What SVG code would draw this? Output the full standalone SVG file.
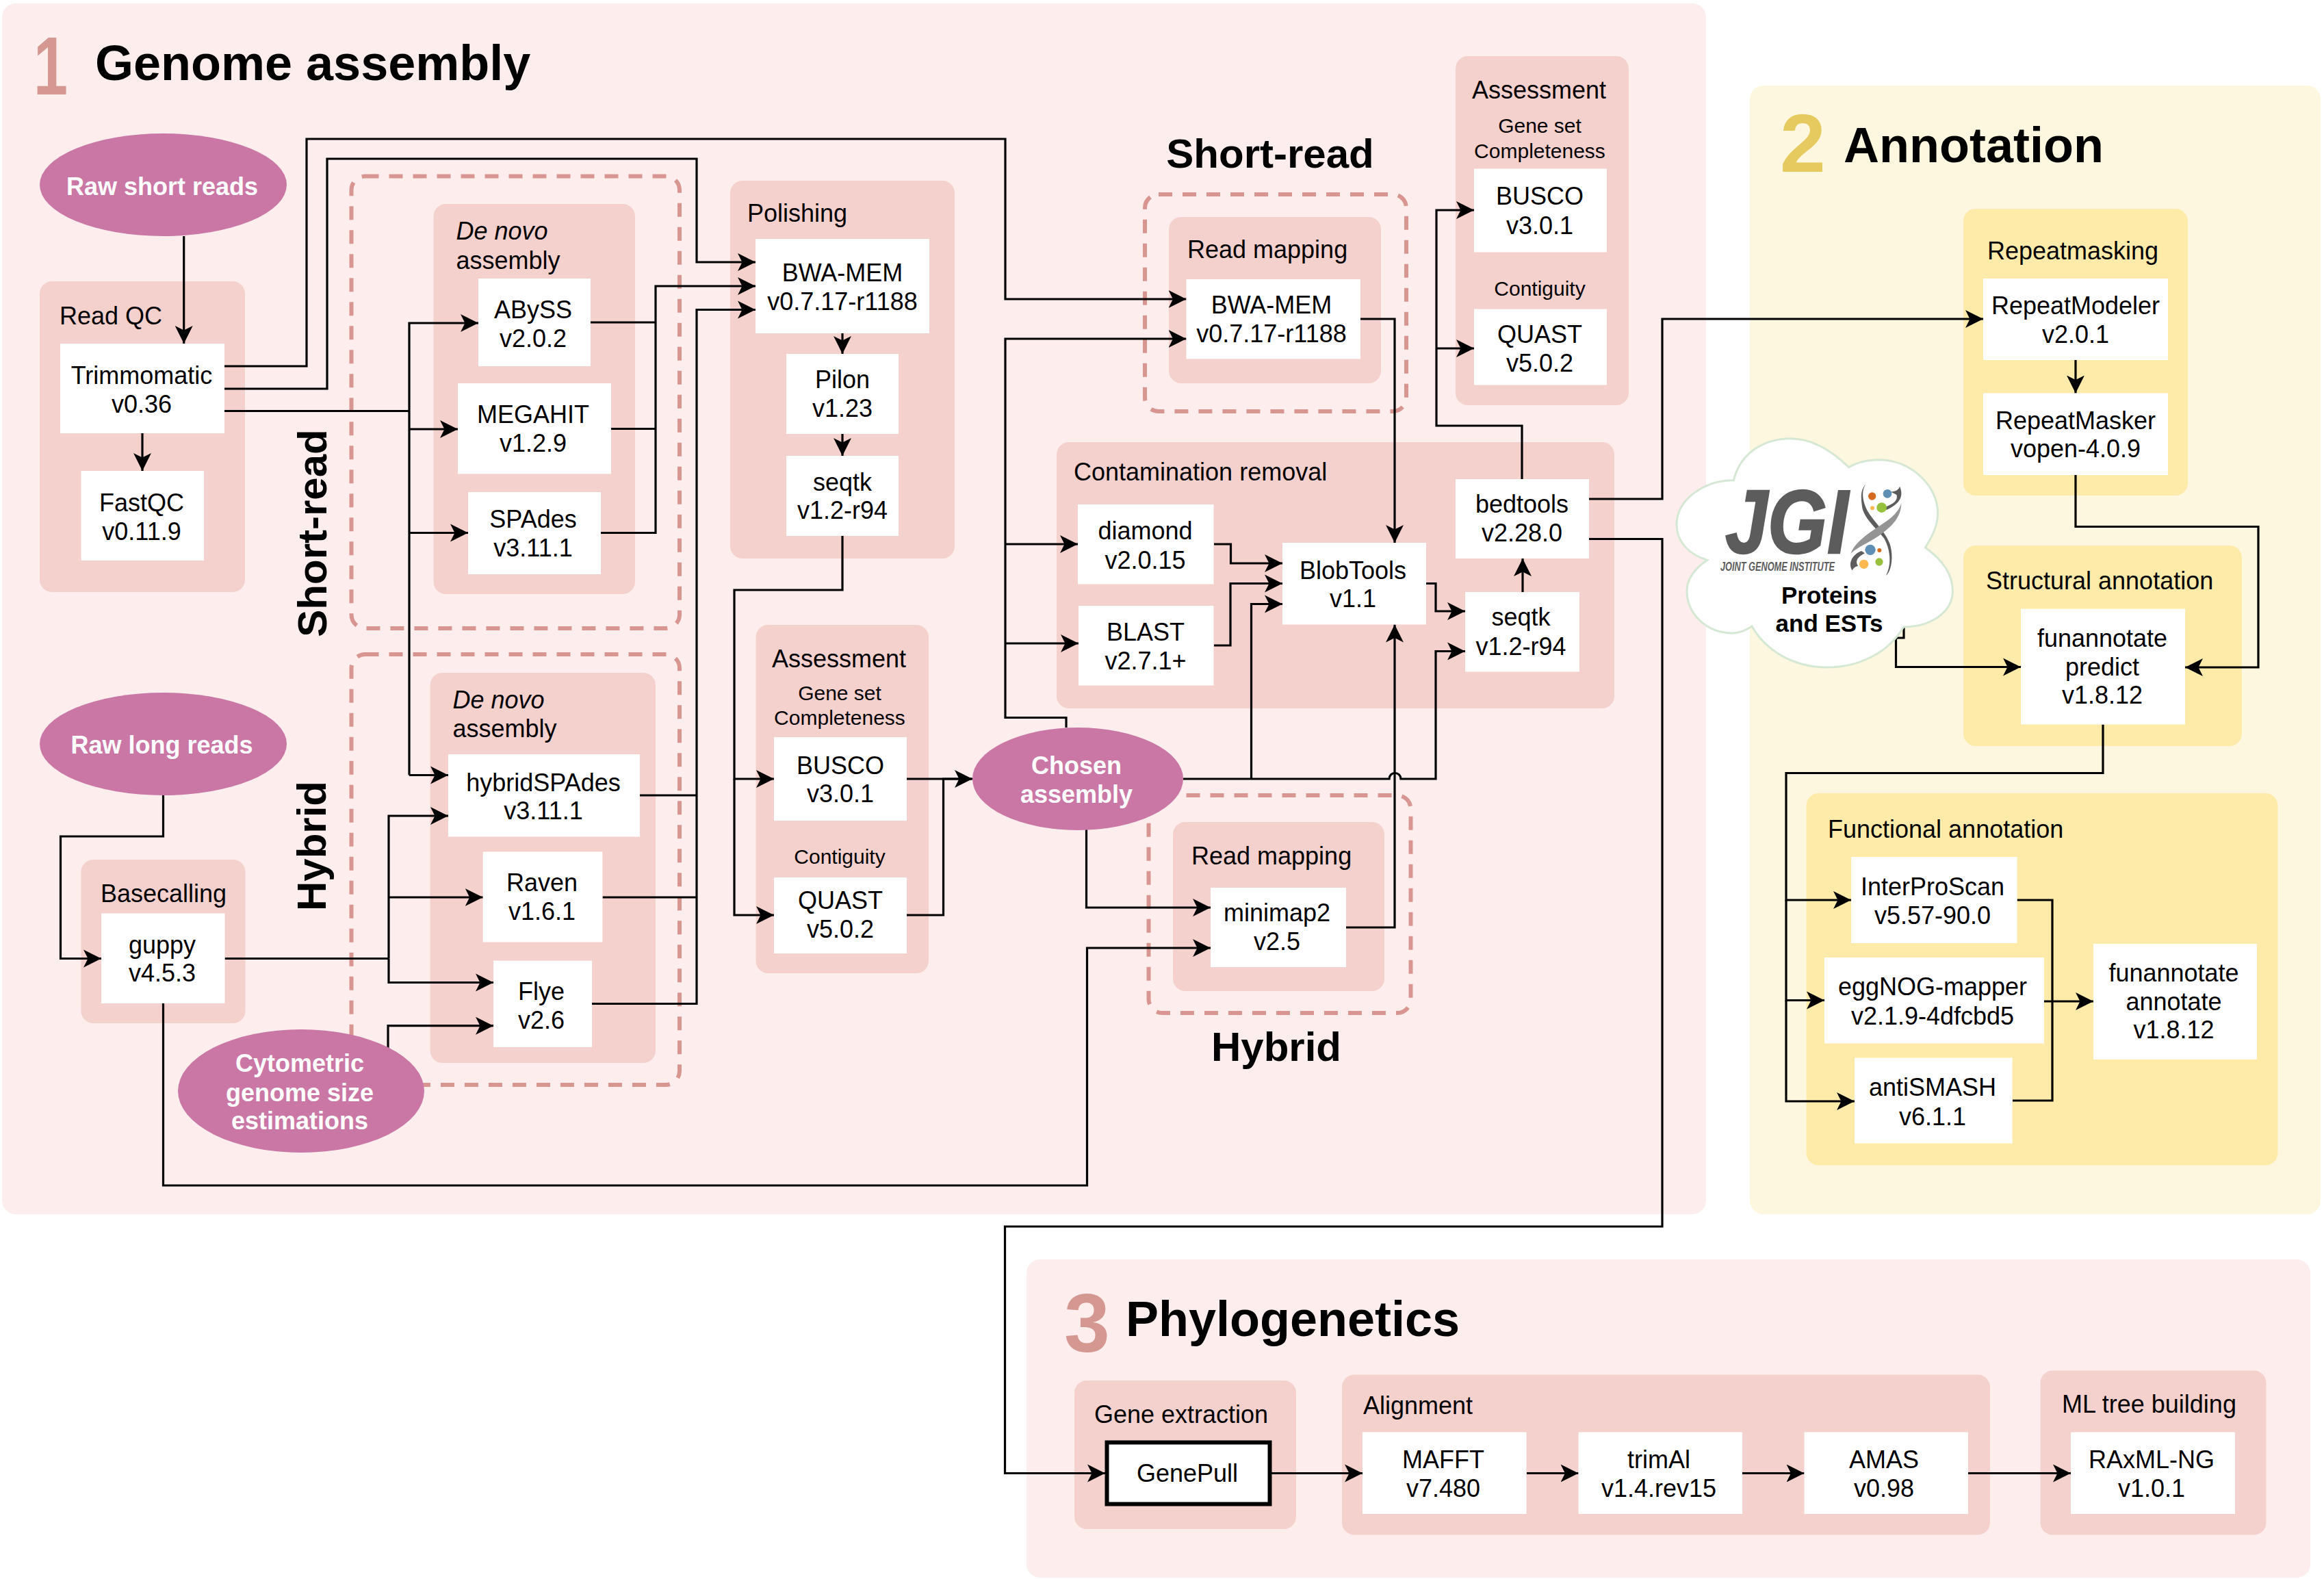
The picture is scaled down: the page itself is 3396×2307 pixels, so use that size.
<svg xmlns="http://www.w3.org/2000/svg" width="3396" height="2307" viewBox="0 0 3396 2307">
<style>
text{font-family:"Liberation Sans",Arial,sans-serif;font-size:36px;fill:#000}
.c{text-anchor:middle}
.b{font-weight:bold}
.s{font-size:30px}
.h{font-size:72px;font-weight:bold}
.big{font-size:120px;font-weight:bold}
.side{font-size:60px;font-weight:bold}
.e{fill:#cb77a6}
.et{fill:#fff;font-weight:bold;text-anchor:middle;font-size:36px}
.w{fill:#fff}
.p{fill:#f5d1ce}
.y{fill:#feebaa}
.sec1{fill:#fdeeed}
.sec2{fill:#fef7df}
.d{fill:none;stroke:#d9958f;stroke-width:6;stroke-dasharray:20 15}
.l{fill:none;stroke:#000;stroke-width:3.2}
.a{marker-end:url(#arr)}
</style>
<defs>
<marker id="arr" markerUnits="userSpaceOnUse" markerWidth="27" markerHeight="28" viewBox="0 0 27 28" refX="26" refY="14" orient="auto"><path d="M0,1 L26,14 L0,27 L6.5,14 Z" fill="#000"/></marker>
</defs>
<rect width="3396" height="2307" fill="#fff"/>

<g id="section-1">
<rect class="sec1" x="3" y="5" width="2490" height="1769" rx="20"/>
<text class="big" x="49" y="138" textLength="50" lengthAdjust="spacingAndGlyphs" style="fill:#d59891">1</text>
<text class="h" x="139" y="117">Genome assembly</text>
</g>
<g id="section-2">
<rect class="sec2" x="2557" y="125" width="834" height="1649" rx="20"/>
<text class="big" x="2601" y="251" style="fill:#e6ca5f">2</text>
<text class="h" x="2694" y="237">Annotation</text>
</g>
<g id="section-3">
<rect class="sec1" x="1500" y="1840" width="1876" height="465" rx="20"/>
<text class="big" x="1555" y="1975" style="fill:#d59891">3</text>
<text class="h" x="1645" y="1952">Phylogenetics</text>
</g>

<g id="dashed-regions">
<rect class="d" x="513.5" y="257.5" width="479.5" height="660.5" rx="20"/>
<rect class="d" x="513.5" y="956" width="479.5" height="629" rx="20"/>
<rect class="d" x="1673" y="284" width="382" height="317" rx="20"/>
<rect class="d" x="1678.5" y="1162" width="383" height="318" rx="20"/>
</g>
<g id="region-labels">
<text class="side c" x="1856" y="245">Short-read</text>
<text class="side c" x="1865" y="1550">Hybrid</text>
<text class="side c" transform="translate(477,779) rotate(-90)">Short-read</text>
<text class="side c" transform="translate(476,1236) rotate(-90)">Hybrid</text>
</g>

<g id="group-read-qc"><rect class="p" x="58" y="411" width="300" height="454" rx="18"/><text x="87" y="474">Read QC</text></g>
<g id="group-basecalling"><rect class="p" x="118.5" y="1256" width="240" height="239" rx="18"/><text x="147" y="1318">Basecalling</text></g>
<g id="group-denovo-short"><rect class="p" x="633.5" y="298" width="294.5" height="570" rx="18"/><text x="666.5" y="350" font-style="italic">De novo</text><text x="666.5" y="393">assembly</text></g>
<g id="group-denovo-hybrid"><rect class="p" x="628.5" y="983" width="329.5" height="570" rx="18"/><text x="661.5" y="1035" font-style="italic">De novo</text><text x="661.5" y="1077">assembly</text></g>
<g id="group-polishing"><rect class="p" x="1067" y="264" width="328" height="552" rx="18"/><text x="1092" y="324">Polishing</text></g>
<g id="group-assessment-1"><rect class="p" x="1104.5" y="913" width="252.5" height="509" rx="18"/><text class="c" x="1226" y="974.5">Assessment</text><text class="c s" x="1227" y="1023">Gene set</text><text class="c s" x="1227" y="1059">Completeness</text><text class="c s" x="1227" y="1262">Contiguity</text></g>
<g id="group-read-mapping-short"><rect class="p" x="1708" y="317" width="310" height="243" rx="18"/><text x="1735" y="377">Read mapping</text></g>
<g id="group-read-mapping-hybrid"><rect class="p" x="1714" y="1201" width="309" height="247" rx="18"/><text x="1741" y="1263">Read mapping</text></g>
<g id="group-contamination"><rect class="p" x="1544" y="646" width="815" height="389" rx="18"/><text x="1569" y="701.5">Contamination removal</text></g>
<g id="group-assessment-2"><rect class="p" x="2127" y="82" width="253" height="510" rx="18"/><text class="c" x="2249" y="143.5">Assessment</text><text class="c s" x="2250" y="194">Gene set</text><text class="c s" x="2250" y="230.5">Completeness</text><text class="c s" x="2250" y="432">Contiguity</text></g>
<g id="group-repeatmasking"><rect class="y" x="2869" y="305" width="328" height="419" rx="18"/><text class="c" x="3029" y="379">Repeatmasking</text></g>
<g id="group-structural"><rect class="y" x="2869" y="797" width="407" height="293" rx="18"/><text x="2902" y="861">Structural annotation</text></g>
<g id="group-functional"><rect class="y" x="2639.5" y="1159" width="689" height="543.5" rx="18"/><text x="2671" y="1224">Functional annotation</text></g>
<g id="group-gene-extraction"><rect class="p" x="1570" y="2017" width="324" height="217" rx="18"/><text x="1599" y="2078.5">Gene extraction</text></g>
<g id="group-alignment"><rect class="p" x="1961" y="2008.5" width="947" height="234" rx="18"/><text x="1992" y="2065.5">Alignment</text></g>
<g id="group-ml"><rect class="p" x="2981.5" y="2002.5" width="330" height="240" rx="18"/><text class="c" x="3140.5" y="2063.5">ML tree building</text></g>

<g id="connectors">
<path class="l a" d="M268.7,345 V502"/>
<path class="l a" d="M208,633 V688"/>
<path class="l a" d="M328,535 H448 V203 H1469 V437 H1733.5"/>
<path class="l a" d="M328,568 H478 V232 H1018 V383 H1104"/>
<path class="l" d="M328,600.5 H598"/>
<path class="l a" d="M598,1132.5 V472 H699"/>
<path class="l a" d="M598,627 H669"/>
<path class="l a" d="M598,778.5 H684"/>
<path class="l a" d="M598,1132.5 H655"/>
<path class="l" d="M863,471 H958"/>
<path class="l" d="M893,626.5 H958"/>
<path class="l a" d="M878,778.5 H958 V418 H1104"/>
<path class="l" d="M935,1162 H1018"/>
<path class="l" d="M880.5,1311 H1018"/>
<path class="l a" d="M865,1466.5 H1018 V452.5 H1104"/>
<path class="l a" d="M1231,487 V517"/>
<path class="l a" d="M1231,634 V666"/>
<path class="l a" d="M1231,783 V862 H1073 V1138 H1131"/>
<path class="l a" d="M1073,1138 V1337 H1131"/>
<path class="l" d="M1325,1138 H1420"/>
<path class="l a" d="M1325,1337 H1378.5 V1138 H1421"/>
<path class="l a" d="M1558,1063 V1048.5 H1469 V495 H1733.5"/>
<path class="l a" d="M1469,795 H1575"/>
<path class="l a" d="M1469,940 H1576"/>
<path class="l a" d="M1729,1138 H2030 A8.5,8.5 0 0 1 2047,1138 H2098 V951.5 H2141"/>
<path class="l a" d="M1828.5,1138 V882.5 H1874"/>
<path class="l a" d="M1587.5,1212 V1326 H1769"/>
<path class="l a" d="M238.5,1466 V1732 H1588.5 V1385 H1769"/>
<path class="l a" d="M1967,1355 H2038 V912.5"/>
<path class="l a" d="M1988,466 H2038 V793"/>
<path class="l a" d="M1774,795 H1798.5 V823 H1874"/>
<path class="l a" d="M1774,943 H1798 V852.5 H1874"/>
<path class="l a" d="M2084,852.5 H2098 V893 H2141"/>
<path class="l a" d="M2225,865 V816"/>
<path class="l a" d="M2224,700 V622 H2099 V307 H2154"/>
<path class="l a" d="M2099,509 H2154"/>
<path class="l a" d="M2322,729 H2429 V466 H2898"/>
<path class="l a" d="M2322,787.5 H2429 V1792 H1468.5 V2152.5 H1615"/>
<path class="l a" d="M3033,526 V574.5"/>
<path class="l a" d="M3033,694 V769.5 H3300 V975 H3193"/>
<path class="l a" d="M2782,917 V932 H2770.5 V974.5 H2953"/>
<path class="l a" d="M3073,1058.5 V1129.5 H2610 V1315 H2705"/>
<path class="l a" d="M2610,1315 V1461.5 H2666"/>
<path class="l a" d="M2610,1461.5 V1609 H2710"/>
<path class="l" d="M2947.5,1315 H2999 V1608 H2941"/>
<path class="l a" d="M2987,1463 H3059"/>
<path class="l a" d="M1858,2152.5 H1991"/>
<path class="l a" d="M2231,2152.5 H2306.5"/>
<path class="l a" d="M2546,2152.5 H2636.5"/>
<path class="l a" d="M2876,2152.5 H3026"/>
<path class="l a" d="M238.5,1162 V1222 H88.5 V1400.5 H148"/>
<path class="l" d="M328.5,1400.5 H568"/>
<path class="l a" d="M568,1400.5 V1192 H655"/>
<path class="l a" d="M568,1311 H705.7"/>
<path class="l a" d="M568,1400.5 V1435.5 H721"/>
<path class="l a" d="M567,1535 V1498.7 H721"/>
</g>

<g id="node-raw-short"><ellipse class="e" cx="238.5" cy="270" rx="180.5" ry="75"/><text class="et" x="237" y="285">Raw short reads</text></g>
<g id="node-raw-long"><ellipse class="e" cx="238.5" cy="1087" rx="180.5" ry="75"/><text class="et" x="236.5" y="1101">Raw long reads</text></g>
<g id="node-cytometric"><ellipse class="e" cx="440" cy="1594" rx="180" ry="90"/><text class="et" x="438" y="1566">Cytometric</text><text class="et" x="438" y="1609">genome size</text><text class="et" x="438" y="1650">estimations</text></g>
<g id="node-chosen"><ellipse class="e" cx="1575" cy="1138" rx="154" ry="75"/><text class="et" x="1573" y="1131">Chosen</text><text class="et" x="1573" y="1173">assembly</text></g>

<g id="node-trimmomatic"><rect class="w" x="88" y="502" width="240" height="131"/><text class="c" x="207" y="561">Trimmomatic</text><text class="c" x="207" y="603">v0.36</text></g>
<g id="node-fastqc"><rect class="w" x="118.5" y="688" width="179.5" height="131"/><text class="c" x="207" y="747">FastQC</text><text class="c" x="207" y="789">v0.11.9</text></g>
<g id="node-guppy"><rect class="w" x="148" y="1334.5" width="180.5" height="131.5"/><text class="c" x="237" y="1393">guppy</text><text class="c" x="237" y="1434">v4.5.3</text></g>
<g id="node-abyss"><rect class="w" x="699" y="407" width="164" height="128"/><text class="c" x="779" y="465">ABySS</text><text class="c" x="779" y="507">v2.0.2</text></g>
<g id="node-megahit"><rect class="w" x="669" y="560" width="224" height="132.5"/><text class="c" x="779" y="618">MEGAHIT</text><text class="c" x="779" y="660">v1.2.9</text></g>
<g id="node-spades"><rect class="w" x="684" y="719" width="194" height="120"/><text class="c" x="779" y="771">SPAdes</text><text class="c" x="779" y="813">v3.11.1</text></g>
<g id="node-hybridspades"><rect class="w" x="655" y="1102" width="280" height="120.5"/><text class="c" x="794" y="1155.5">hybridSPAdes</text><text class="c" x="794" y="1197">v3.11.1</text></g>
<g id="node-raven"><rect class="w" x="705.7" y="1244.5" width="174.7" height="132"/><text class="c" x="792" y="1302">Raven</text><text class="c" x="792" y="1344">v1.6.1</text></g>
<g id="node-flye"><rect class="w" x="721" y="1403.5" width="144" height="126.5"/><text class="c" x="791" y="1461">Flye</text><text class="c" x="791" y="1503">v2.6</text></g>
<g id="node-bwa-polish"><rect class="w" x="1104" y="349" width="254" height="138"/><text class="c" x="1231" y="411">BWA-MEM</text><text class="c" x="1231" y="453">v0.7.17-r1188</text></g>
<g id="node-pilon"><rect class="w" x="1149" y="517" width="164" height="117"/><text class="c" x="1231" y="567">Pilon</text><text class="c" x="1231" y="609">v1.23</text></g>
<g id="node-seqtk-polish"><rect class="w" x="1149" y="666" width="164" height="117"/><text class="c" x="1231" y="717">seqtk</text><text class="c" x="1231" y="758">v1.2-r94</text></g>
<g id="node-busco-1"><rect class="w" x="1131" y="1077" width="194" height="122"/><text class="c" x="1228" y="1130.5">BUSCO</text><text class="c" x="1228" y="1172">v3.0.1</text></g>
<g id="node-quast-1"><rect class="w" x="1131" y="1282" width="194" height="111"/><text class="c" x="1228" y="1328">QUAST</text><text class="c" x="1228" y="1370">v5.0.2</text></g>
<g id="node-bwa-map"><rect class="w" x="1733.5" y="408" width="254.5" height="116.5"/><text class="c" x="1858" y="458">BWA-MEM</text><text class="c" x="1858" y="500">v0.7.17-r1188</text></g>
<g id="node-minimap2"><rect class="w" x="1769" y="1297" width="198" height="116"/><text class="c" x="1866" y="1346">minimap2</text><text class="c" x="1866" y="1388">v2.5</text></g>
<g id="node-diamond"><rect class="w" x="1575" y="737" width="198.5" height="116.5"/><text class="c" x="1673.5" y="788">diamond</text><text class="c" x="1673.5" y="830.5">v2.0.15</text></g>
<g id="node-blast"><rect class="w" x="1576" y="885" width="197.5" height="116.5"/><text class="c" x="1674" y="936">BLAST</text><text class="c" x="1674" y="977.5">v2.7.1+</text></g>
<g id="node-blobtools"><rect class="w" x="1874" y="793" width="210" height="119.5"/><text class="c" x="1977" y="845.5">BlobTools</text><text class="c" x="1977" y="887">v1.1</text></g>
<g id="node-seqtk-cont"><rect class="w" x="2141" y="865" width="167" height="116.5"/><text class="c" x="2222.5" y="914">seqtk</text><text class="c" x="2222.5" y="956.5">v1.2-r94</text></g>
<g id="node-bedtools"><rect class="w" x="2127" y="700" width="195" height="116"/><text class="c" x="2224" y="749">bedtools</text><text class="c" x="2224" y="791">v2.28.0</text></g>
<g id="node-busco-2"><rect class="w" x="2154" y="246.5" width="194" height="122"/><text class="c" x="2250" y="299">BUSCO</text><text class="c" x="2250" y="342">v3.0.1</text></g>
<g id="node-quast-2"><rect class="w" x="2154" y="451.5" width="194" height="111"/><text class="c" x="2250" y="501">QUAST</text><text class="c" x="2250" y="542.5">v5.0.2</text></g>
<g id="node-repeatmodeler"><rect class="w" x="2898" y="407" width="270" height="119"/><text class="c" x="3033" y="459">RepeatModeler</text><text class="c" x="3033" y="501">v2.0.1</text></g>
<g id="node-repeatmasker"><rect class="w" x="2898" y="574.5" width="270" height="119.5"/><text class="c" x="3033" y="627">RepeatMasker</text><text class="c" x="3033" y="668">vopen-4.0.9</text></g>
<g id="node-predict"><rect class="w" x="2953" y="889.5" width="240" height="169"/><text class="c" x="3072" y="945">funannotate</text><text class="c" x="3072" y="986.5">predict</text><text class="c" x="3072" y="1028">v1.8.12</text></g>
<g id="node-interproscan"><rect class="w" x="2705" y="1252" width="242.5" height="126"/><text class="c" x="2824" y="1308">InterProScan</text><text class="c" x="2824" y="1350">v5.57-90.0</text></g>
<g id="node-eggnog"><rect class="w" x="2666" y="1399" width="321" height="125.5"/><text class="c" x="2824" y="1454">eggNOG-mapper</text><text class="c" x="2824" y="1496.5">v2.1.9-4dfcbd5</text></g>
<g id="node-antismash"><rect class="w" x="2710" y="1545.5" width="230.5" height="125"/><text class="c" x="2824" y="1601">antiSMASH</text><text class="c" x="2824" y="1644">v6.1.1</text></g>
<g id="node-annotate"><rect class="w" x="3059" y="1379" width="239" height="169"/><text class="c" x="3176.5" y="1434">funannotate</text><text class="c" x="3176.5" y="1475.5">annotate</text><text class="c" x="3176.5" y="1517">v1.8.12</text></g>
<g id="node-genepull"><rect x="1617.5" y="2107.5" width="238" height="90" fill="#fff" stroke="#000" stroke-width="6"/><text class="c" x="1735" y="2165">GenePull</text></g>
<g id="node-mafft"><rect class="w" x="1991" y="2092.5" width="239.5" height="119.5"/><text class="c" x="2109" y="2144.5">MAFFT</text><text class="c" x="2109" y="2186.5">v7.480</text></g>
<g id="node-trimal"><rect class="w" x="2306.5" y="2092.5" width="239.5" height="119.5"/><text class="c" x="2424" y="2144.5">trimAl</text><text class="c" x="2424" y="2186.5">v1.4.rev15</text></g>
<g id="node-amas"><rect class="w" x="2636.5" y="2092.5" width="239.5" height="119.5"/><text class="c" x="2753" y="2144.5">AMAS</text><text class="c" x="2753" y="2186.5">v0.98</text></g>
<g id="node-raxml"><rect class="w" x="3026" y="2092.5" width="240" height="119.5"/><text class="c" x="3144" y="2144.5">RAxML-NG</text><text class="c" x="3144" y="2186.5">v1.0.1</text></g>

<g id="node-proteins">
<g transform="translate(2420,620) scale(0.33333)">
<path d="M340,245 C370,120 480,62 590,62 C690,62 780,125 845,188 C890,160 940,155 985,155 C1120,160 1235,270 1235,390 C1235,450 1205,500 1180,540 C1250,590 1300,650 1300,730 C1300,830 1195,888 1085,888 C1020,1000 890,1065 750,1065 C600,1065 480,990 420,885 C390,905 365,915 335,915 C220,915 135,830 135,730 C135,680 170,630 225,595 C140,570 90,510 90,440 C90,330 210,245 340,245 Z" fill="#fff" stroke="#d5e8d4" stroke-width="9"/>
<path d="M918,263 C895,290 898,320 903,360 C910,410 960,450 1000,500 C1025,545 1035,610 1008,663 C1035,640 1040,570 1025,525 C1005,470 950,420 930,385 C910,350 895,300 918,263 Z" fill="#5c5c5c"/>
<path d="M1068,272 C1085,310 1075,345 1010,375 L1005,362 C1040,350 1060,335 1055,310 C1040,300 1030,298 1030,295 C1050,295 1065,285 1068,272 Z" fill="#5c5c5c"/>
<path d="M860,640 C840,610 860,570 900,555 L915,565 C885,580 870,600 885,620 C870,625 865,630 860,640 Z" fill="#5c5c5c"/>
<path d="M1075,345 C1060,400 1000,430 950,465 C900,500 865,530 852,570 C870,545 930,520 975,490 C1030,450 1075,410 1075,345 Z" fill="#949494"/>
<circle cx="947" cy="315" r="17" fill="#d46a1f"/><circle cx="1014" cy="304" r="19" fill="#5f8fb5"/><circle cx="989" cy="365" r="22" fill="#97c03d"/><circle cx="948" cy="367" r="9" fill="#fdb84f"/><circle cx="939" cy="550" r="23" fill="#5f8fb5"/><circle cx="979" cy="552" r="9" fill="#d46a1f"/><circle cx="978" cy="603" r="17" fill="#97c03d"/><circle cx="911" cy="613" r="20" fill="#fdb84f"/>
</g>
<text x="2521" y="808" textLength="180" lengthAdjust="spacingAndGlyphs" style="font-size:131px;font-weight:bold;font-style:italic;fill:#5c5c5c;stroke:#5c5c5c;stroke-width:2.5">JGI</text>
<text x="2514" y="834" textLength="167" lengthAdjust="spacingAndGlyphs" style="font-size:18.5px;font-weight:bold;font-style:italic;fill:#5c5c5c">JOINT GENOME INSTITUTE</text>
<text class="c b" x="2673" y="882" style="font-size:35px">Proteins</text>
<text class="c b" x="2673" y="923" style="font-size:35px">and ESTs</text>
</g>
</svg>
